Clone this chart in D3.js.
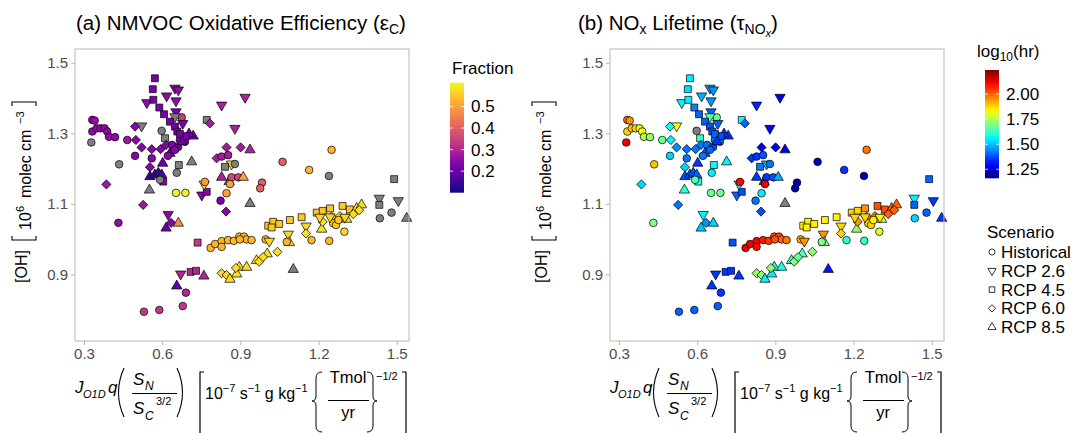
<!DOCTYPE html>
<html>
<head>
<meta charset="utf-8">
<script src="https://cdn.jsdelivr.net/npm/d3@7"></script>
<style>
  body { margin: 0; background: #fff; }
  svg { font-family: "Liberation Sans", Arial, Helvetica, sans-serif; }
  .tick text { fill: #4d4d4d; font-size: 15px; font-family: "Liberation Sans", Arial, Helvetica, sans-serif; }
  .tick line { stroke: #b5b5b5; }
</style>
</head>
<body>
<svg id="chart" width="1083" height="433"></svg>
<script>
var xTicks = [0.3, 0.6, 0.9, 1.2, 1.5];
var yTicks = [0.9, 1.1, 1.3, 1.5];
var scenarioNames = ["Historical", "RCP 2.6", "RCP 4.5", "RCP 6.0", "RCP 8.5"];
var fractionTicks = [0.2, 0.3, 0.4, 0.5];
var lifetimeTicks = [1.25, 1.50, 1.75, 2.00];

// x: J_O1D q S_N / S_C^(3/2), y: [OH] (10^6 molec cm-3)
var ohX = [0.332, 0.341, 0.332, 0.349, 0.364, 0.379, 0.389, 0.396, 0.419, 0.328,
           0.386, 0.435, 0.466, 0.432, 0.572, 0.564, 0.649, 0.662, 0.617, 0.541,
           0.566, 0.653, 0.589, 0.607, 0.653, 0.675, 0.649, 0.679, 0.630, 0.649,
           0.521, 0.496, 0.598, 0.658, 0.719, 0.703, 0.611, 0.499, 0.521, 0.560,
           0.594, 0.615, 0.668, 0.687, 0.638, 0.661, 0.630, 0.649, 0.622, 0.691,
           0.668, 0.676, 0.496, 0.560, 0.602, 0.553, 0.713, 0.664, 0.656, 0.553,
           0.572, 0.585, 0.598, 0.604, 0.592, 0.551, 0.653, 0.689, 0.752, 0.771,
           0.824, 0.847, 0.527, 0.937, 0.761, 0.764, 0.828, 0.857, 0.866, 0.892,
           0.911, 0.860, 0.809, 0.828, 0.853, 0.847, 0.901, 0.937, 0.866, 0.841,
           0.879, 1.062, 0.983, 0.976, 0.828, 0.918, 0.879, 0.771, 0.783, 1.250,
           1.164, 1.240, 1.490, 0.845, 0.623, 0.634, 0.662, 0.615, 0.736, 0.786,
           0.803, 0.828, 0.828, 0.853, 0.875, 0.896, 0.914, 0.924, 0.943, 0.898,
           0.997, 1.011, 1.007, 1.026, 1.049, 1.020, 1.090, 1.135, 1.084, 1.088,
           1.078, 1.152, 1.152, 1.173, 1.241, 1.299, 1.193, 1.216, 1.244, 1.292,
           1.320, 1.212, 1.308, 1.346, 1.365, 1.216, 1.250, 1.282, 1.333, 1.356,
           1.256, 1.267, 1.276, 1.244, 1.205, 1.301, 1.433, 1.433, 1.506, 1.435,
           1.480, 1.538, 0.828, 0.847, 0.860, 0.886, 0.896, 0.924, 0.962, 1.003,
           1.042, 0.972, 0.883, 1.103, 0.987, 0.671, 0.709, 0.730, 0.760, 0.656,
           0.691, 0.530, 0.589, 0.679];
var ohY = [1.338, 1.336, 1.305, 1.314, 1.314, 1.314, 1.305, 1.290, 1.289, 1.274,
           1.155, 1.212, 1.281, 1.046, 1.456, 1.425, 1.428, 1.423, 1.406, 1.387,
           1.395, 1.392, 1.373, 1.354, 1.361, 1.345, 1.347, 1.328, 1.333, 1.319,
           1.321, 1.319, 1.307, 1.305, 1.292, 1.298, 1.286, 1.281, 1.260, 1.255,
           1.255, 1.267, 1.281, 1.276, 1.267, 1.261, 1.243, 1.253, 1.236, 1.292,
           1.298, 1.276, 1.236, 1.229, 1.215, 1.204, 1.219, 1.210, 1.188, 1.177,
           1.182, 1.187, 1.182, 1.163, 1.168, 1.139, 1.131, 1.131, 1.125, 1.134,
           1.109, 1.130, 1.097, 1.101, 1.156, 1.162, 1.175, 1.163, 1.175, 1.175,
           1.175, 1.156, 1.229, 1.234, 1.238, 1.260, 1.260, 1.253, 1.213, 1.205,
           1.213, 1.219, 1.160, 1.144, 1.380, 1.402, 1.314, 1.338, 1.328, 1.253,
           1.196, 1.179, 1.170, 1.078, 1.070, 1.046, 1.045, 1.031, 0.990, 0.975,
           0.986, 0.994, 0.978, 0.997, 0.995, 1.007, 1.007, 0.999, 0.997, 0.999,
           0.999, 0.994, 1.038, 1.049, 1.043, 1.033, 1.054, 1.062, 1.014, 0.990,
           0.992, 1.037, 1.016, 0.997, 0.995, 1.021, 1.075, 1.080, 1.087, 1.094,
           1.084, 1.028, 1.056, 1.087, 1.097, 1.049, 1.063, 1.065, 1.071, 1.082,
           1.045, 1.040, 1.054, 1.063, 1.062, 1.062, 1.116, 1.097, 1.109, 1.059,
           1.075, 1.059, 0.903, 0.898, 0.886, 0.901, 0.920, 0.920, 0.939, 0.958,
           0.964, 0.936, 0.918, 0.914, 0.949, 0.901, 0.907, 0.910, 0.895, 0.867,
           0.848, 0.794, 0.799, 0.810];
// index into scenarioNames
var scenario = [0, 0, 0, 0, 0, 0, 0, 0, 0, 0,
                3, 0, 0, 0, 2, 2, 1, 1, 1, 1,
                2, 1, 2, 2, 1, 0, 1, 1, 2, 2,
                1, 3, 0, 2, 4, 4, 2, 3, 3, 3,
                3, 3, 0, 0, 0, 0, 4, 0, 0, 2,
                2, 4, 0, 0, 4, 3, 4, 2, 0, 4,
                4, 4, 4, 2, 0, 4, 0, 0, 1, 2,
                0, 0, 3, 4, 1, 0, 4, 4, 0, 0,
                4, 0, 3, 0, 0, 3, 3, 4, 1, 2,
                0, 0, 0, 0, 1, 1, 1, 2, 3, 0,
                0, 0, 2, 3, 1, 3, 4, 4, 2, 0,
                0, 0, 0, 0, 0, 0, 0, 0, 0, 0,
                0, 1, 2, 2, 2, 2, 2, 2, 1, 4,
                0, 1, 3, 0, 0, 0, 2, 2, 2, 2,
                2, 4, 4, 4, 4, 3, 3, 3, 3, 3,
                0, 0, 0, 1, 1, 1, 1, 2, 1, 0,
                0, 4, 3, 3, 4, 4, 4, 4, 4, 4,
                3, 3, 3, 4, 3, 1, 2, 2, 4, 4,
                0, 0, 0, 0];
// NMVOC fraction, null = not available (grey)
var fraction = [0.26, 0.26, 0.25, 0.25, 0.25, 0.25, 0.25, 0.25, 0.25, null,
                0.27, null, 0.27, 0.25, 0.22, 0.22, 0.25, 0.25, 0.25, 0.25,
                0.22, 0.25, 0.22, 0.22, 0.22, 0.34, null, 0.22, 0.22, 0.22,
                null, 0.24, null, 0.22, 0.22, 0.22, null, 0.24, 0.24, 0.24,
                0.24, 0.24, 0.23, 0.22, 0.23, 0.23, 0.20, 0.24, 0.24, 0.22,
                0.22, 0.20, 0.24, 0.24, 0.20, 0.24, null, null, null, 0.14,
                0.14, 0.14, 0.16, 0.24, null, null, 0.60, 0.60, 0.24, 0.24,
                0.22, 0.50, 0.27, null, 0.58, 0.50, 0.29, 0.29, 0.36, 0.36,
                0.50, 0.50, 0.28, 0.28, 0.28, 0.28, 0.28, 0.29, 0.57, null,
                null, 0.40, 0.40, 0.40, 0.29, 0.29, 0.29, null, 0.28, 0.53,
                0.53, null, null, 0.24, 0.24, 0.24, 0.47, 0.20, 0.33, 0.53,
                0.53, 0.53, 0.53, 0.53, 0.53, 0.53, 0.53, 0.53, 0.53, 0.53,
                0.53, 0.57, 0.55, 0.55, 0.55, 0.55, 0.55, 0.55, 0.57, 0.58,
                0.53, 0.57, 0.58, 0.53, 0.53, 0.57, 0.55, 0.55, 0.55, 0.55,
                0.55, 0.58, 0.58, 0.58, 0.58, 0.58, 0.58, 0.58, 0.58, 0.58,
                0.55, 0.55, 0.55, 0.57, 0.57, 0.57, null, null, null, null,
                null, null, 0.57, 0.57, 0.58, 0.58, 0.58, 0.58, 0.58, 0.58,
                0.58, 0.58, 0.58, null, 0.58, 0.30, 0.30, 0.30, 0.30, 0.20,
                0.30, 0.33, 0.33, 0.33];
// NOx lifetime, log10(hr), null = not available (grey)
var lifetime = [1.98, 1.95, 1.88, 1.90, 1.88, 1.85, 1.82, 1.75, 1.72, 2.12,
                1.52, 1.90, 1.68, 1.70, 1.55, 1.53, 1.45, 1.45, 1.48, 1.55,
                1.55, 1.45, 1.43, 1.40, 1.40, 1.68, 1.65, 1.40, 1.40, 1.38,
                1.83, 1.58, null, 1.38, 1.35, 1.35, 1.62, 1.55, 1.45, 1.42,
                1.42, 1.42, 1.42, 1.40, 1.42, 1.38, 1.38, 1.40, 1.42, 1.38,
                1.40, 1.35, 1.52, 1.42, 1.35, 1.52, 1.55, 1.57, 1.55, 1.38,
                1.38, 1.38, 1.40, 1.60, 1.65, 1.62, 1.68, 1.68, 1.40, 1.38,
                1.42, 1.55, 1.42, null, 1.55, 2.10, 1.35, 1.35, 1.35, 1.38,
                1.48, 2.12, 1.35, 1.35, 1.38, 1.28, 1.28, 1.28, 1.48, 1.42,
                1.42, 1.22, 1.20, 1.20, 1.33, 1.28, 1.28, 1.58, 1.40, 1.98,
                1.35, 1.22, 1.40, 1.38, 1.55, 1.45, 1.52, 1.50, 1.38, 2.12,
                2.12, 2.12, 2.10, 2.08, 2.05, 2.03, 2.02, 2.00, 1.98, 2.02,
                1.92, 1.95, 1.85, 1.85, 1.85, 1.85, 1.85, 1.85, 1.95, 1.70,
                1.70, 1.88, 1.88, 1.62, 1.62, 1.80, 1.88, 1.88, 1.95, 2.02,
                2.02, 1.72, 1.78, 2.00, 2.00, 1.95, 1.95, 1.97, 2.00, 2.00,
                1.88, 1.88, 1.85, 1.88, 1.88, 1.85, 1.55, 1.40, 1.35, 1.52,
                1.40, 1.35, 1.72, 1.72, 1.55, 1.55, 1.58, 1.60, 1.62, 1.65,
                1.72, 1.70, 1.72, 1.32, 1.68, 1.35, 1.35, 1.35, 1.35, 1.35,
                1.35, 1.40, 1.40, 1.40];

var svg = d3.select('#chart');
var naColour = '#7f7f7f';

var fracScale = d3.scaleSequential(d3.interpolatePlasma).domain([0.10, 0.61]);
var lifeScale = d3.scaleLinear()
    .domain([1.16, 1.295, 1.565, 1.835, 2.105, 2.24])
    .range(['#00007F', '#0000FF', '#00FFFF', '#FFFF00', '#FF0000', '#7F0000']);

var points = ohX.map(function (d, i) {
    return { x: d, y: ohY[i], s: scenario[i], frac: fraction[i], life: lifetime[i] };
});

// ggplot shapes 21, 25, 22, 23, 24
function shapePath(s, k) {
    k = k || 1;
    if (s === 0) return d3.symbol().type(d3.symbolCircle).size(46 * k * k)();
    if (s === 2) return d3.symbol().type(d3.symbolSquare).size(48 * k * k)();
    if (s === 3) return d3.symbol().type(d3.symbolSquare).size(42 * k * k)();
    return d3.symbol().type(d3.symbolTriangle).size(46 * k * k)();
}
function shapeRotate(s) {
    if (s === 1) return ' rotate(180)';
    if (s === 3) return ' rotate(45)';
    return '';
}

var panelTop = 49, H = 292, W = 334;

function drawPanel(left, colourOf) {
    var x = d3.scaleLinear().domain([0.2655, 1.547]).range([left, left + W]);
    var y = d3.scaleLinear().domain([0.711, 1.539]).range([panelTop + H, panelTop]);

    svg.append('g')
        .attr('transform', 'translate(0,' + (panelTop + H) + ')')
        .call(d3.axisBottom(x).tickValues(xTicks).tickSize(4).tickPadding(3).tickFormat(d3.format('.1f')))
        .call(function (g) { g.select('.domain').remove(); });
    svg.append('g')
        .attr('transform', 'translate(' + left + ',0)')
        .call(d3.axisLeft(y).tickValues(yTicks).tickSize(4).tickPadding(3).tickFormat(d3.format('.1f')))
        .call(function (g) { g.select('.domain').remove(); });

    svg.append('g').selectAll('path')
        .data(points)
        .join('path')
        .attr('d', function (d) { return shapePath(d.s); })
        .attr('transform', function (d) { return 'translate(' + x(d.x) + ',' + y(d.y) + ')' + shapeRotate(d.s); })
        .attr('fill', colourOf)
        .attr('stroke', '#000')
        .attr('stroke-width', 0.7);

    svg.append('rect')
        .attr('x', left).attr('y', panelTop).attr('width', W).attr('height', H)
        .attr('fill', 'none').attr('stroke', '#b8b8b8').attr('stroke-width', 1);
}

function colourBar(id, bx, by0, by1, scale, lo, hi, ticks, fmt) {
    var grad = svg.append('defs').append('linearGradient')
        .attr('id', id).attr('x1', 0).attr('y1', 1).attr('x2', 0).attr('y2', 0);
    d3.range(0, 1.0001, 0.05).forEach(function (t) {
        grad.append('stop').attr('offset', t).attr('stop-color', scale(lo + t * (hi - lo)));
    });
    svg.append('rect').attr('x', bx).attr('y', by0).attr('width', 14).attr('height', by1 - by0)
        .attr('fill', 'url(#' + id + ')');
    var ys = d3.scaleLinear().domain([lo, hi]).range([by1, by0]);
    ticks.forEach(function (t) {
        svg.append('line').attr('x1', bx).attr('x2', bx + 3).attr('y1', ys(t)).attr('y2', ys(t))
            .attr('stroke', '#fff').attr('stroke-width', 0.8);
        svg.append('line').attr('x1', bx + 11).attr('x2', bx + 14).attr('y1', ys(t)).attr('y2', ys(t))
            .attr('stroke', '#fff').attr('stroke-width', 0.8);
        svg.append('text').attr('x', bx + 21).attr('y', ys(t) + 6)
            .style('font-size', '17px').text(fmt(t));
    });
}

function xLabel(L) {
    var o = L - 75;
    var g = svg.append('g').attr('transform', 'translate(' + o + ',0)');
    var it = function (txt, xx, yy, fs) {
        g.append('text').attr('x', xx).attr('y', yy).style('font-size', fs + 'px')
            .style('font-style', 'italic').text(txt);
    };
    var tx = function (txt, xx, yy, fs, anchor) {
        g.append('text').attr('x', xx).attr('y', yy).style('font-size', fs + 'px')
            .attr('text-anchor', anchor || 'start').text(txt);
    };
    var ln = function (d, w) {
        g.append('path').attr('d', d).attr('fill', 'none').attr('stroke', '#000').attr('stroke-width', w || 1.1);
    };
    it('J', 75, 393, 17);
    it('O1D', 83, 398, 11);
    it('q', 108, 393, 17);
    ln('M124,368 Q113,392.5 124,417');
    it('S', 133, 385, 17);
    it('N', 145, 390, 12);
    ln('M132,393.5 H177', 1);
    it('S', 133, 414, 17);
    it('C', 145, 420, 12);
    tx('3/2', 156, 405, 11);
    ln('M177,368 Q188,392.5 177,417');
    ln('M204,372 H200 V445 H204', 1.2);
    var t = g.append('text').attr('x', 205).attr('y', 399).style('font-size', '16px');
    t.append('tspan').text('10');
    t.append('tspan').attr('dy', -7).style('font-size', '11px').text('\u22127');
    t.append('tspan').attr('dy', 7).text(' s');
    t.append('tspan').attr('dy', -7).style('font-size', '11px').text('\u22121');
    t.append('tspan').attr('dy', 7).text(' g kg');
    t.append('tspan').attr('dy', -7).style('font-size', '11px').text('\u22121');
    ln('M322,372 Q316,372 316,378 V396 Q316,401 312,401 Q316,401 316,406 V426 Q316,432 322,432', 1);
    tx('Tmol', 348, 383, 16.5, 'middle');
    ln('M328,400.5 H369', 1);
    tx('yr', 348, 418, 16.5, 'middle');
    ln('M367,372 Q373,372 373,378 V396 Q373,401 377,401 Q373,401 373,406 V426 Q373,432 367,432', 1);
    tx('\u22121/2', 376, 380, 11);
    ln('M402,372 H406 V445 H402', 1.2);
}

function yLabel(x0) {
    var g = svg.append('g').attr('transform', 'translate(' + x0 + ',195) rotate(-90)')
        .style('font-size', '16px');
    g.append('text').attr('x', -88).attr('y', 0).text('[OH]');
    g.append('path').attr('d', 'M-41,-15 H-45 V9 H-41').attr('fill', 'none')
        .attr('stroke', '#000').attr('stroke-width', 1.1);
    g.append('text').attr('x', -35).attr('y', 4).text('10');
    g.append('text').attr('x', -17).attr('y', -3).style('font-size', '11px').text('6');
    g.append('text').attr('x', -3).attr('y', 4).text('molec cm');
    g.append('text').attr('x', 71).attr('y', -3).style('font-size', '11px').text('\u22123');
    g.append('path').attr('d', 'M89,-15 H93 V9 H89').attr('fill', 'none')
        .attr('stroke', '#000').attr('stroke-width', 1.1);
}

// panel (a)
drawPanel(75, function (d) { return d.frac == null ? naColour : fracScale(d.frac); });
// panel (b)
drawPanel(610, function (d) { return d.life == null ? naColour : lifeScale(d.life); });

// titles
var ta = svg.append('text').attr('x', 76).attr('y', 30).style('font-size', '20.5px');
ta.append('tspan').text('(a) NMVOC Oxidative Efficiency (\u03b5');
ta.append('tspan').attr('dy', 4).style('font-size', '14px').text('C');
ta.append('tspan').attr('dy', -4).text(')');

var tb = svg.append('text').attr('x', 578).attr('y', 30).style('font-size', '20.5px');
tb.append('tspan').text('(b) NO');
tb.append('tspan').attr('dy', 4).style('font-size', '14px').text('x');
tb.append('tspan').attr('dy', -4).text(' Lifetime (\u03c4');
tb.append('tspan').attr('dy', 4).style('font-size', '14px').text('NO');
tb.append('tspan').attr('dy', 3).style('font-size', '11px').style('font-style', 'italic').text('x');
tb.append('tspan').attr('dy', -7).text(')');

xLabel(75);
xLabel(610);
yLabel(27);
yLabel(547);

// legends
svg.append('text').attr('x', 452).attr('y', 74).style('font-size', '17px').text('Fraction');
colourBar('gradFrac', 450, 82.7, 192.7, fracScale, 0.10, 0.61, fractionTicks, d3.format('.1f'));

var lt = svg.append('text').attr('x', 977).attr('y', 57).style('font-size', '17px');
lt.append('tspan').text('log');
lt.append('tspan').attr('dy', 4).style('font-size', '12px').text('10');
lt.append('tspan').attr('dy', -4).text('(hr)');
colourBar('gradLife', 985, 70, 178.3, lifeScale, 1.16, 2.24, lifetimeTicks, d3.format('.2f'));

svg.append('text').attr('x', 987).attr('y', 238).style('font-size', '17px').text('Scenario');
var leg = svg.append('g').selectAll('g')
    .data(scenarioNames)
    .join('g')
    .attr('transform', function (d, i) { return 'translate(992,' + (252 + i * 18.8) + ')'; });
leg.append('path')
    .attr('d', function (d, i) { return shapePath(i, 0.8); })
    .attr('transform', function (d, i) { return shapeRotate(i); })
    .attr('fill', 'none').attr('stroke', '#000').attr('stroke-width', 0.8);
leg.append('text').attr('x', 9).attr('y', 6).style('font-size', '17px').text(function (d) { return d; });
</script>
</body>
</html>
